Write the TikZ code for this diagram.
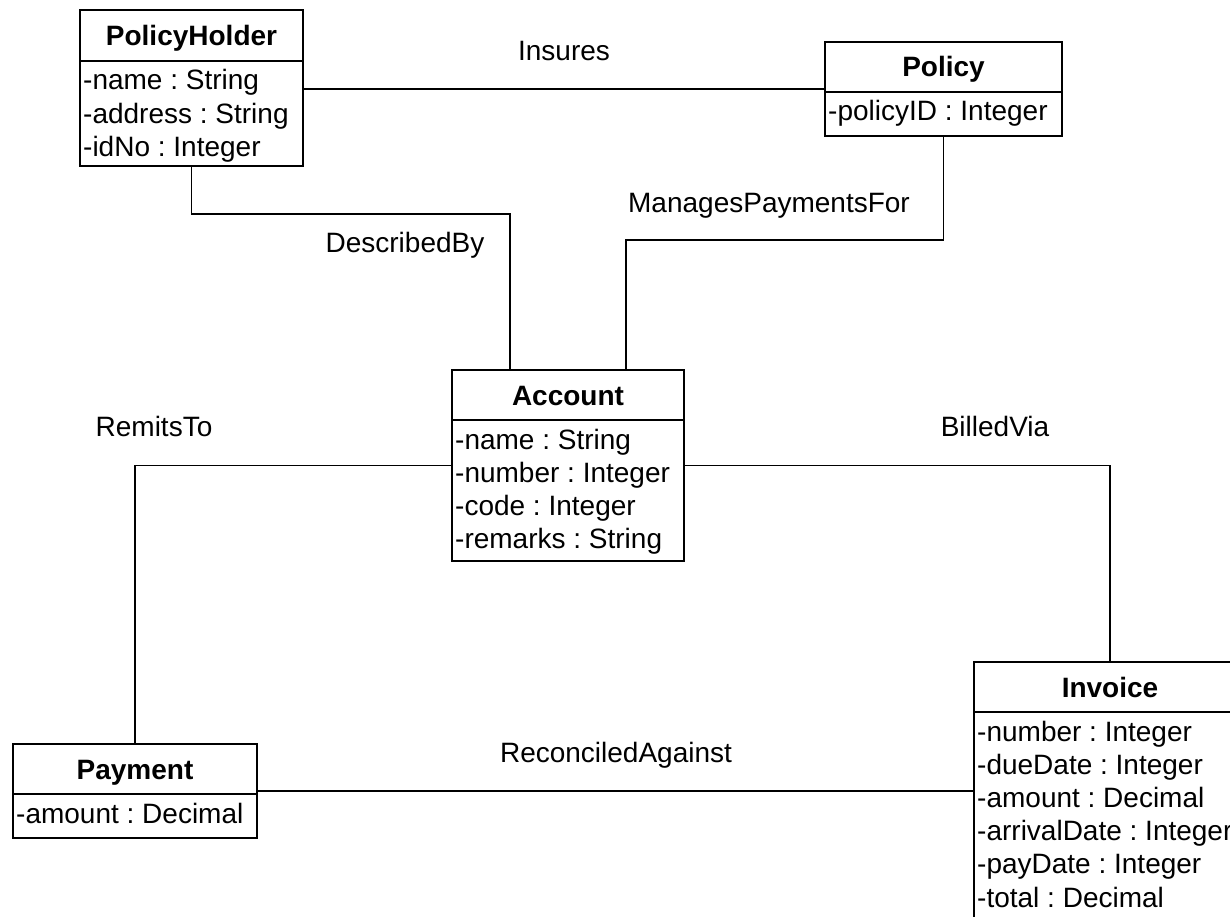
\documentclass[tikz,border=0pt]{standalone}
\usepackage{fontspec}
\setmainfont{Liberation Sans}
\usetikzlibrary{calc}
\frenchspacing
\tikzset{
  classframe/.style={draw=black, line width=2pt, inner sep=0pt, outer sep=0pt, fill=white},
  sepline/.style={draw=black, line width=2pt},
  classtitle/.style={font=\fontsize{28}{33}\selectfont\bfseries, inner sep=0pt, anchor=base},
  attrtext/.style={font=\fontsize{28}{33}\selectfont, inner sep=0pt, anchor=base west},
  assoc/.style={draw=black, line width=1.2pt},
  assoclabel/.style={font=\fontsize{28}{33}\selectfont, inner sep=0pt, anchor=base},
}
% #1 name, #2 left x, #3 top y (down), #4 width, #5 header height, #6 total height, #7 title, #8 attributes
\newcommand\umlclassbox[8]{%
  \node[classframe, minimum width=#4pt, minimum height=#6pt, anchor=north west] (#1) at (#2,-#3) {};
  \draw[sepline] ($(#1.north west)+(0,-#5)$) coordinate (#1-hl) -- ++(#4,0);
  \node[classtitle] (#1-t) at ($(#1.north)+(0,-#5/2-10)$) {#7};
  \foreach \a [count=\i] in {#8} {
    \node[attrtext] (#1-a\i) at ($(#1.north west)+(3,-#5-29-33.2*\i+33.2)$) {\a};
  }%
}
\begin{document}
\begin{tikzpicture}[x=1pt,y=1pt]
\useasboundingbox (0,0) rectangle (1230,-917);
\clip (0,0) rectangle (1230,-917);
\fill[white] (0,0) rectangle (1230,-917);

\umlclassbox{ph}{80}{10}{223}{51}{156}{PolicyHolder}{-name : String,-address : String,-idNo : Integer}
\umlclassbox{pol}{825}{42}{237}{50}{94}{Policy}{-policyID : Integer}
\umlclassbox{acc}{452}{370}{232}{50}{191}{Account}{-name : String,-number : Integer,-code : Integer,-remarks : String}
\umlclassbox{inv}{974}{662}{272}{50}{266}{Invoice}{-number : Integer,-dueDate : Integer,-amount : Decimal,-arrivalDate : Integer,-payDate : Integer,-total : Decimal}
\umlclassbox{pay}{13}{744}{244}{50}{94}{Payment}{-amount : Decimal}

% associations
\draw[assoc] (pol.west) -- (pol.west -| ph.east);
\draw[assoc] (ph.south) -- ++(0,-48) -| ($(acc.north west)!0.25!(acc.north east)$);
\draw[assoc] (pol.south) -- ++(0,-104) -| ($(acc.north west)!0.75!(acc.north east)$);
\draw[assoc] (acc.west) -| (pay.north);
\draw[assoc] (acc.east) -| (inv.north);
\draw[assoc] (pay.east) -- (pay.east -| inv.west);

% labels
\node[assoclabel] (l-ins) at (564,-61) {Insures};
\node[assoclabel] (l-desc) at (405,-252) {DescribedBy};
\node[assoclabel] (l-man) at (769,-213) {ManagesPaymentsFor};
\node[assoclabel] (l-rem) at (154,-436) {RemitsTo};
\node[assoclabel] (l-bill) at (995,-436) {BilledVia};
\node[assoclabel] (l-rec) at (616,-762) {ReconciledAgainst};
\end{tikzpicture}
\end{document}
